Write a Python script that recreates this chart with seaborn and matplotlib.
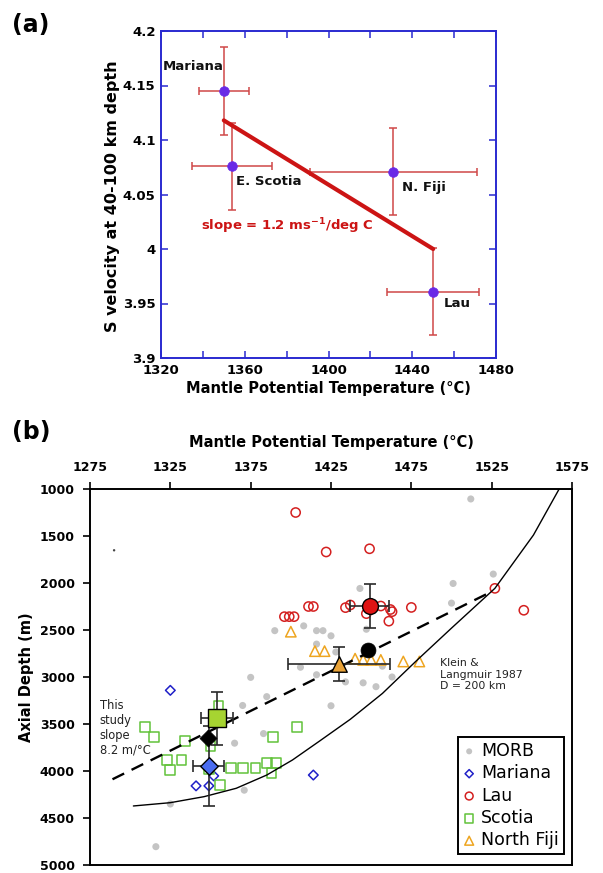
import numpy as np
import matplotlib
matplotlib.use("Agg")
import matplotlib.pyplot as plt
import seaborn as sns

# ---------------- Panel (a) data ----------------
a_regions = ["Mariana", "E. Scotia", "N. Fiji", "Lau"]
a_temp = [1350, 1354, 1431, 1450]
a_temp_err = [12, 19, 40, 22]
a_vs = [4.145, 4.076, 4.071, 3.961]
a_vs_err = [0.04, 0.04, 0.04, 0.04]
a_fit_T = [1350, 1450]
a_fit_V = [4.118, 4.000]
a_xticks = [1320, 1360, 1400, 1440, 1480]
a_yticks = [3.9, 3.95, 4.0, 4.05, 4.1, 4.15, 4.2]
a_yticklabels = ["3.9", "3.95", "4", "4.05", "4.1", "4.15", "4.2"]

# ---------------- Panel (b) data ----------------
morb_T = [1512, 1526, 1501, 1500, 1443, 1390, 1408, 1416, 1420, 1425, 1416, 1447,
          1428, 1406, 1416, 1434, 1445, 1453, 1463, 1457, 1375, 1385, 1370, 1425,
          1383, 1365, 1371, 1325, 1316]
morb_D = [1106, 1905, 2005, 2214, 2058, 2507, 2456, 2507, 2507, 2562, 2650, 2492,
          2734, 2896, 2976, 3052, 3062, 3103, 3000, 2885, 3004, 3209, 3303, 3306,
          3602, 3704, 4204, 4351, 4805]
mariana_T = [1325, 1352, 1341, 1349, 1414]
mariana_D = [3142, 4052, 4158, 4158, 4043]
lau_T = [1403, 1422, 1449, 1396, 1399, 1402, 1411, 1414, 1434, 1437, 1447, 1456,
         1462, 1463, 1461, 1475, 1527, 1545]
lau_D = [1250, 1670, 1636, 2358, 2358, 2358, 2250, 2250, 2262, 2234, 2326, 2245,
         2282, 2305, 2406, 2260, 2057, 2290]
scotia_T = [1309, 1315, 1334, 1323, 1325, 1332, 1355, 1350, 1349, 1356, 1363, 1370,
            1378, 1385, 1391, 1388, 1389, 1404]
scotia_D = [3536, 3641, 3682, 3880, 3993, 3880, 3304, 3738, 3979, 4152, 3972, 3972,
            3972, 3915, 3915, 4024, 3641, 3536]
fiji_T = [1400, 1415, 1421, 1440, 1445, 1450, 1456, 1470, 1480]
fiji_D = [2518, 2725, 2725, 2805, 2818, 2818, 2818, 2835, 2835]
speck_T = [1290]
speck_D = [1652]

# mean values with error bars
mean_groups = ["Lau", "Scotia", "Mariana", "North Fiji"]
mean_T = [1449, 1354, 1349, 1430]
mean_T_err = [12, 10, 9.7, 31.5]
mean_D = [2245, 3440, 3943, 2865]
mean_D_err = [230, 285, 425, 180]
all_T = [1448.3, 1348.6]  # black symbols (arc averages)
all_D = [2716, 3652]

# lines
dash_T = [1289, 1524]
dash_D = [4088, 2100]
kl_T = [1302, 1325, 1346, 1366, 1385, 1401, 1418, 1437, 1457, 1478, 1500, 1527, 1551, 1567]
kl_D = [4372, 4337, 4273, 4184, 4043, 3883, 3680, 3450, 3175, 2830, 2480, 2057, 1490, 1000]

b_xticks = [1275, 1325, 1375, 1425, 1475, 1525, 1575]
b_yticks = [1000, 1500, 2000, 2500, 3000, 3500, 4000, 4500, 5000]

# ---------------- figure ----------------
sns.set_theme(style="ticks")
plt.rcParams["font.family"] = ["DejaVu Sans"]
plt.rcParams["text.color"] = "black"
plt.rcParams["xtick.labelcolor"] = "black"
plt.rcParams["ytick.labelcolor"] = "black"
W, H = 603, 873
fig = plt.figure(figsize=(W / 100, H / 100), dpi=100)


def fx(x):
    return x / W


def fy(y):
    return 1 - y / H


# ===== Panel (a) =====
blue = "#2a2ad0"
axa = fig.add_axes([fx(161), fy(358), (496 - 161) / W, (358 - 31) / H])
axa.errorbar(a_temp, a_vs, xerr=a_temp_err, yerr=a_vs_err, fmt="none",
             ecolor="#d04848", elinewidth=1.1, capsize=3, capthick=1.1, zorder=2)
sns.lineplot(x=a_fit_T, y=a_fit_V, ax=axa, color="#cc1414", linewidth=3,
             estimator=None, sort=False, zorder=3)
sns.scatterplot(x=a_temp, y=a_vs, ax=axa, s=48, color="#6a2ae6",
                edgecolor="#6a2ae6", linewidth=0.5, zorder=4)
axa.set_xlim(1320, 1480)
axa.set_ylim(3.9, 4.2)
axa.set_xticks(a_xticks)
axa.set_xticks([1340, 1380, 1420, 1460], minor=True)
axa.set_yticks(a_yticks)
axa.set_yticklabels(a_yticklabels)
for sp in axa.spines.values():
    sp.set_color(blue)
    sp.set_linewidth(1.4)
axa.tick_params(which="both", direction="in", length=5, width=1.1, color=blue,
                top=True, right=True, labelsize=9.5, labelcolor="black")
axa.tick_params(axis="x", pad=4.5)
axa.tick_params(axis="y", pad=4)
for lab in axa.get_xticklabels() + axa.get_yticklabels():
    lab.set_fontweight("bold")
axa.set_xlabel("")
axa.set_ylabel("")

a_label_x = [1321, 1356, 1435, 1455]
a_label_y = [4.167, 4.062, 4.056, 3.950]
for name, tx, ty in zip(a_regions, a_label_x, a_label_y):
    axa.text(tx, ty, name, fontsize=9.5, fontweight="bold", color="#111111",
             ha="left", va="center")
axa.text(1339, 4.021, r"slope = 1.2 ms$^{\mathbf{-1}}$/deg C", fontsize=9.5,
         fontweight="bold", color="#cc1414", ha="left", va="center")

fig.text(fx(328), fy(389), "Mantle Potential Temperature (°C)", fontsize=10.5,
         fontweight="bold", ha="center", va="center")
fig.text(fx(113), fy(196), "S velocity at 40-100 km depth", fontsize=11.5,
         fontweight="bold", ha="center", va="center", rotation=90)
fig.text(fx(12), fy(25), "(a)", fontsize=17, fontweight="bold", ha="left", va="center")

# ===== Panel (b) =====
axb = fig.add_axes([fx(90), fy(865), (572 - 90) / W, (865 - 489) / H])

sns.scatterplot(x=morb_T, y=morb_D, ax=axb, s=26, color="#c4c4c4",
                edgecolor="none", linewidth=0, label="MORB", zorder=2)
sns.scatterplot(x=speck_T, y=speck_D, ax=axb, s=3, color="#444444",
                edgecolor="none", linewidth=0, zorder=2)
sns.scatterplot(x=mariana_T, y=mariana_D, ax=axb, marker="D", s=24,
                facecolor="none", edgecolor="#2020c8", linewidth=1.1,
                label="Mariana", zorder=3)
sns.scatterplot(x=lau_T, y=lau_D, ax=axb, marker="o", s=44,
                facecolor="none", edgecolor="#d42020", linewidth=1.1,
                label="Lau", zorder=3)
sns.scatterplot(x=scotia_T, y=scotia_D, ax=axb, marker="s", s=50,
                facecolor="none", edgecolor="#62c23a", linewidth=1.1,
                label="Scotia", zorder=3)
sns.scatterplot(x=fiji_T, y=fiji_D, ax=axb, marker="^", s=56,
                facecolor="none", edgecolor="#eea520", linewidth=1.1,
                label="North Fiji", zorder=3)

sns.lineplot(x=dash_T, y=dash_D, ax=axb, color="black", linewidth=1.7,
             estimator=None, sort=False, zorder=4)
axb.lines[-1].set_dashes([5.5, 3.5])
sns.lineplot(x=kl_T, y=kl_D, ax=axb, color="black", linewidth=1.0,
             estimator=None, sort=False, zorder=4)

axb.errorbar(mean_T, mean_D, xerr=mean_T_err, yerr=mean_D_err, fmt="none",
             ecolor="#2a2a2a", elinewidth=1.2, capsize=4, capthick=1.2, zorder=5)

mean_markers = ["o", "s", "D", "^"]
mean_colors = ["#e01414", "#a6d431", "#4a6cf0", "#e8a238"]
mean_sizes = [130, 150, 80, 125]
for mk, c, sz, t, d in zip(mean_markers, mean_colors, mean_sizes, mean_T, mean_D):
    sns.scatterplot(x=[t], y=[d], ax=axb, marker=mk, s=sz, color=c,
                    edgecolor="black", linewidth=1.0, zorder=6)
sns.scatterplot(x=all_T[:1], y=all_D[:1], ax=axb, marker="o", s=115,
                color="black", edgecolor="black", linewidth=0.5, zorder=6)
sns.scatterplot(x=all_T[1:], y=all_D[1:], ax=axb, marker="D", s=75,
                color="black", edgecolor="black", linewidth=0.5, zorder=6)

axb.set_xlim(1275, 1575)
axb.set_ylim(5000, 1000)
axb.set_xticks(b_xticks)
axb.set_yticks(b_yticks)
axb.xaxis.tick_top()
for sp in axb.spines.values():
    sp.set_color("black")
    sp.set_linewidth(1.4)
axb.tick_params(axis="x", which="both", direction="out", length=5, width=1.2,
                top=True, bottom=False, labelsize=9, pad=6, color="black",
                labelcolor="black")
axb.tick_params(axis="y", which="both", direction="out", length=5, width=1.2,
                left=True, right=False, labelsize=9, pad=6, color="black",
                labelcolor="black")
for lab in axb.get_xticklabels() + axb.get_yticklabels():
    lab.set_fontweight("bold")
axb.set_xlabel("")
axb.set_ylabel("")

axb.text(1281, 3540, "This\nstudy\nslope\n8.2 m/°C", fontsize=8.3,
         ha="left", va="center", color="#222222", linespacing=1.2)
axb.text(1493, 2975, "Klein &\nLangmuir 1987\nD = 200 km", fontsize=7.8,
         ha="left", va="center", color="#222222", linespacing=1.2)

leg = axb.legend(loc="lower right", bbox_to_anchor=(0.984, 0.028), fontsize=12.5,
                 frameon=True, fancybox=False, framealpha=1, edgecolor="black",
                 handlelength=0.7, handletextpad=0.35, labelspacing=0.25,
                 borderpad=0.3, borderaxespad=0, markerscale=0.85)
leg.get_frame().set_linewidth(1.4)
for t in leg.get_texts():
    t.set_color("black")

fig.text(fx(331), fy(443), "Mantle Potential Temperature (°C)", fontsize=10.5,
         fontweight="bold", ha="center", va="center")
fig.text(fx(26), fy(677), "Axial Depth (m)", fontsize=10.5,
         fontweight="bold", ha="center", va="center", rotation=90)
fig.text(fx(12), fy(432), "(b)", fontsize=17, fontweight="bold", ha="left", va="center")

fig.savefig("out.png", dpi=100)
